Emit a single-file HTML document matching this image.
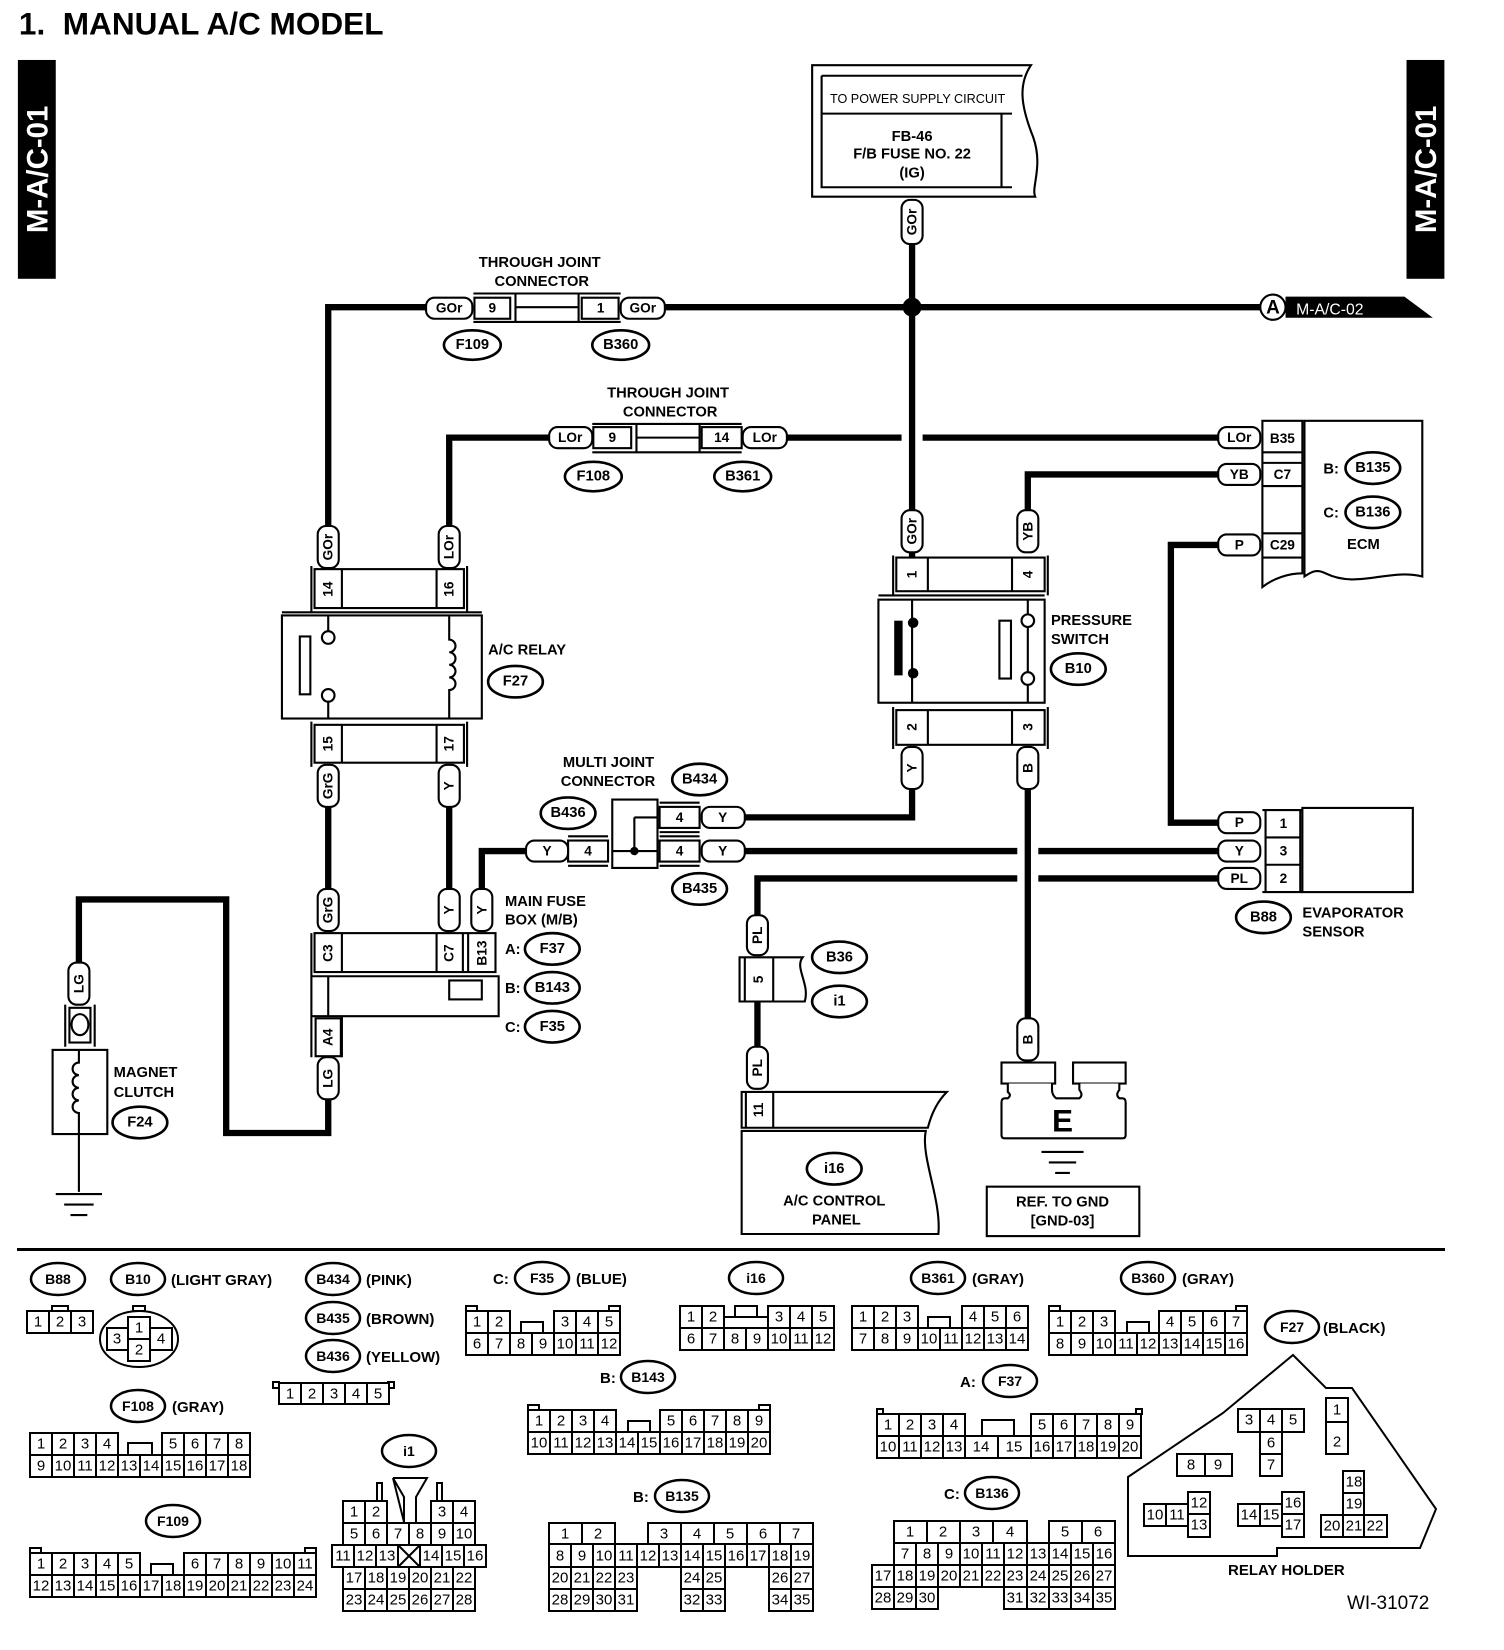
<!DOCTYPE html>
<html><head><meta charset="utf-8"><style>
html,body{margin:0;padding:0;background:#fff}
svg{display:block}
text{font-family:"Liberation Sans",sans-serif;fill:#000}
.b{font-weight:bold}
.w{stroke:#000;stroke-width:6;fill:none}
.t{stroke:#000;stroke-width:2;fill:none}
.f{stroke:#000;stroke-width:2;fill:#fff}
.p{stroke:#000;stroke-width:2;fill:#fff}
.c rect{stroke:#000;stroke-width:2;fill:#fff}
.c text{font-size:15px;text-anchor:middle;dominant-baseline:central}
.o ellipse{stroke:#000;stroke-width:2.5;fill:#fff}
.o text{font-size:14px;font-weight:bold;text-anchor:middle;dominant-baseline:central}
.m{text-anchor:middle;dominant-baseline:central}
</style></head><body>
<svg width="1504" height="1650" viewBox="0 0 1504 1650" xmlns="http://www.w3.org/2000/svg">
<rect width="1504" height="1650" fill="#fff"/>
<g transform="scale(1.052)">
<text x="18" y="33" class="b" font-size="30" xml:space="preserve">1.  MANUAL A/C MODEL</text>
<rect x="17" y="57" width="36" height="208" fill="#000"/>
<text transform="translate(45,161) rotate(-90)" class="b" font-size="28" style="fill:#fff" text-anchor="middle">M-A/C-01</text>
<rect x="1337" y="57" width="36" height="208" fill="#000"/>
<text transform="translate(1365,161) rotate(-90)" class="b" font-size="28" style="fill:#fff" text-anchor="middle">M-A/C-01</text>

<!-- power box -->
<path class="f" stroke-width="3" d="M772,62 H980 C968,80 970,100 982,130 C992,158 980,178 984,187 H772 Z"/>
<path class="t" d="M781,72 H972 M781,72 V178 H962 M781,108 H962 M952,108 V178"/>
<text x="789" y="98" font-size="12">TO POWER SUPPLY CIRCUIT</text>
<text x="867" y="130" class="b m" font-size="14">FB-46</text>
<text x="867" y="147" class="b m" font-size="14">F/B FUSE NO. 22</text>
<text x="867" y="165" class="b m" font-size="14">(IG)</text>

<!-- wires -->
<path class="w" d="M867,230 V530"/>
<path class="w" d="M312,505 V292 H405 M632,292 H1198"/>
<circle cx="867" cy="292" r="9" fill="#000"/>
<path class="w" d="M427,500 V416 H522 M748,416 H857 M877,416 H1158"/>
<path class="w" d="M1158,451 H977 V485"/>
<path class="w" d="M1158,518 H1113 V782 H1158"/>
<path class="w" d="M867,750 V777 H708 M708,809 H967 M987,809 H1158"/>
<path class="w" d="M500,809 H458 V845"/>
<path class="w" d="M977,750 V968"/>
<path class="w" d="M1158,835 H987 M967,835 H720 V870 M720,952 V995"/>
<path class="w" d="M312,767 V845 M427,767 V845"/>
<path class="w" d="M312,1045 V1077 H215 V855 H75 V915"/>

<!-- A connector -->
<circle cx="1210" cy="292" r="12" class="f" stroke-width="3"/>
<text x="1210" y="293" class="b m" font-size="18">A</text>
<polygon points="1222,282 1335,282 1362,302 1222,302" fill="#000"/>
<text x="1232" y="299" font-size="15" style="fill:#fff">M-A/C-02</text>

<!-- through joint 1 -->
<text x="513" y="250" class="b m" font-size="14">THROUGH JOINT</text>
<text x="515" y="268" class="b m" font-size="14">CONNECTOR</text>
<path class="t" d="M450,279 H590 M450,306 H590 M490,279 V306 M550,279 V306 M490,292 H550"/>
<rect class="p" x="405" y="283" width="44" height="20" rx="8"/><text x="427" y="293" class="m b" font-size="13">GOr</text>
<rect class="p" x="451" y="283" width="34" height="20" stroke-width="3"/><text x="468" y="293" class="m b" font-size="13">9</text>
<rect class="p" x="553" y="283" width="35" height="20" stroke-width="3"/><text x="571" y="293" class="m b" font-size="13">1</text>
<rect class="p" x="590" y="283" width="42" height="20" rx="8"/><text x="611" y="293" class="m b" font-size="13">GOr</text>
<g class="o"><ellipse cx="449" cy="328" rx="27" ry="14"/><text x="449" y="328">F109</text>
<ellipse cx="590" cy="328" rx="27" ry="14"/><text x="590" y="328">B360</text></g>

<!-- through joint 2 -->
<text x="635" y="374" class="b m" font-size="14">THROUGH JOINT</text>
<text x="637" y="392" class="b m" font-size="14">CONNECTOR</text>
<path class="t" d="M563,403 H705 M563,430 H705 M605,403 V430 M665,403 V430 M605,416 H665"/>
<rect class="p" x="522" y="406" width="41" height="20" rx="8"/><text x="542" y="416" class="m b" font-size="13">LOr</text>
<rect class="p" x="564" y="406" width="36" height="20" stroke-width="3"/><text x="582" y="416" class="m b" font-size="13">9</text>
<rect class="p" x="667" y="406" width="38" height="20" stroke-width="3"/><text x="686" y="416" class="m b" font-size="13">14</text>
<rect class="p" x="706" y="406" width="42" height="20" rx="8"/><text x="727" y="416" class="m b" font-size="13">LOr</text>
<g class="o"><ellipse cx="564" cy="453" rx="27" ry="14"/><text x="564" y="453">F108</text>
<ellipse cx="706" cy="453" rx="27" ry="14"/><text x="706" y="453">B361</text></g>

<rect class="p" x="857" y="190" width="20" height="42" rx="8"/><text transform="translate(867,211) rotate(-90)" class="m b" font-size="13">GOr</text>

<!-- ECM -->
<path class="f" d="M1240,400 H1352 V548 C1320,540 1290,560 1260,545 C1250,540 1245,545 1240,548 Z"/>
<path class="f" d="M1200,400 H1238 V545 C1225,545 1210,550 1200,558 Z"/>
<path class="t" d="M1200,430 H1238 M1200,440 H1238 M1200,462 H1238 M1200,507 H1238 M1200,530 H1238"/>
<text x="1219" y="417" class="m b" font-size="13">B35</text>
<text x="1219" y="451" class="m b" font-size="13">C7</text>
<text x="1219" y="518" class="m b" font-size="13">C29</text>
<rect class="p" x="1158" y="406" width="40" height="20" rx="8"/><text x="1178" y="416" class="m b" font-size="13">LOr</text>
<rect class="p" x="1158" y="441" width="40" height="20" rx="8"/><text x="1178" y="451" class="m b" font-size="13">YB</text>
<rect class="p" x="1158" y="508" width="40" height="20" rx="8"/><text x="1178" y="518" class="m b" font-size="13">P</text>
<text x="1258" y="450" class="b" font-size="14">B:</text>
<text x="1258" y="492" class="b" font-size="14">C:</text>
<g class="o"><ellipse cx="1305" cy="445" rx="26" ry="15"/><text x="1305" y="445">B135</text>
<ellipse cx="1305" cy="487" rx="26" ry="15"/><text x="1305" y="487">B136</text></g>
<text x="1296" y="518" class="m b" font-size="14">ECM</text>

<!-- pressure switch -->
<rect class="p" x="857" y="485" width="20" height="40" rx="8"/><text transform="translate(867,505) rotate(-90)" class="m b" font-size="13">GOr</text>
<rect class="p" x="967" y="485" width="20" height="40" rx="8"/><text transform="translate(977,505) rotate(-90)" class="m b" font-size="13">YB</text>
<path class="t" d="M849,528 V566 M996,528 V566 M835,566 H993"/>
<rect class="f" x="852" y="530" width="141" height="32"/>
<path class="t" d="M882,530 V562 M962,530 V562"/>
<text transform="translate(867,546) rotate(-90)" class="m b" font-size="13">1</text>
<text transform="translate(977,546) rotate(-90)" class="m b" font-size="13">4</text>
<rect class="f" x="835" y="570" width="158" height="98"/>
<path class="t" d="M867,570 V668 M977,570 V584 M977,596 V639 M977,651 V668"/>
<rect x="850" y="590" width="8" height="52" fill="#000"/>
<circle cx="868" cy="592" r="5" fill="#000"/><circle cx="868" cy="640" r="5" fill="#000"/>
<rect class="f" x="950" y="590" width="11" height="55"/>
<circle cx="977" cy="590" r="6" class="f"/><circle cx="977" cy="645" r="6" class="f"/>
<path class="t" d="M849,672 V712 M996,672 V712"/>
<rect class="f" x="852" y="675" width="141" height="33"/>
<path class="t" d="M882,675 V708 M962,675 V708"/>
<text transform="translate(867,691) rotate(-90)" class="m b" font-size="13">2</text>
<text transform="translate(977,691) rotate(-90)" class="m b" font-size="13">3</text>
<rect class="p" x="857" y="710" width="20" height="40" rx="8"/><text transform="translate(867,730) rotate(-90)" class="m b" font-size="13">Y</text>
<rect class="p" x="967" y="710" width="20" height="40" rx="8"/><text transform="translate(977,730) rotate(-90)" class="m b" font-size="13">B</text>
<text x="999" y="594" class="b" font-size="14">PRESSURE</text>
<text x="999" y="612" class="b" font-size="14">SWITCH</text>
<g class="o"><ellipse cx="1025" cy="636" rx="26" ry="15"/><text x="1025" y="636">B10</text></g>

<!-- A/C relay -->
<rect class="p" x="302" y="500" width="20" height="40" rx="8"/><text transform="translate(312,520) rotate(-90)" class="m b" font-size="13">GOr</text>
<rect class="p" x="417" y="500" width="20" height="40" rx="8"/><text transform="translate(427,520) rotate(-90)" class="m b" font-size="13">LOr</text>
<path class="t" d="M296,538 V582 M444,538 V582 M268,582 H458"/>
<rect class="f" x="299" y="541" width="142" height="37"/>
<path class="t" d="M325,541 V578 M415,541 V578"/>
<text transform="translate(312,560) rotate(-90)" class="m b" font-size="13">14</text>
<text transform="translate(427,560) rotate(-90)" class="m b" font-size="13">16</text>
<rect class="f" x="268" y="585" width="190" height="98"/>
<rect class="f" x="285" y="605" width="10" height="55"/>
<path class="t" d="M312,585 V600 M312,666 V683"/>
<circle cx="312" cy="606" r="6" class="f"/><circle cx="312" cy="661" r="6" class="f"/>
<path class="t" d="M427,585 V608 a6,6 0 1 1 0,12 a6,6 0 1 1 0,12 a6,6 0 1 1 0,12 a6,6 0 1 1 0,12 V683"/>
<path class="t" d="M296,686 V729 M444,686 V729"/>
<rect class="f" x="299" y="689" width="142" height="36"/>
<path class="t" d="M325,689 V725 M415,689 V725"/>
<text transform="translate(312,707) rotate(-90)" class="m b" font-size="13">15</text>
<text transform="translate(427,707) rotate(-90)" class="m b" font-size="13">17</text>
<rect class="p" x="302" y="727" width="20" height="40" rx="8"/><text transform="translate(312,747) rotate(-90)" class="m b" font-size="13">GrG</text>
<rect class="p" x="417" y="727" width="20" height="40" rx="8"/><text transform="translate(427,747) rotate(-90)" class="m b" font-size="13">Y</text>
<text x="464" y="622" class="b" font-size="14">A/C RELAY</text>
<g class="o"><ellipse cx="490" cy="648" rx="26" ry="15"/><text x="490" y="648">F27</text></g>

<!-- multi joint -->
<text x="535" y="729" class="b" font-size="14">MULTI JOINT</text>
<text x="533" y="747" class="b" font-size="14">CONNECTOR</text>
<g class="o"><ellipse cx="665" cy="741" rx="26" ry="15"/><text x="665" y="741">B434</text>
<ellipse cx="540" cy="773" rx="26" ry="15"/><text x="540" y="773">B436</text>
<ellipse cx="665" cy="845" rx="26" ry="15"/><text x="665" y="845">B435</text></g>
<path class="t" d="M582,760 H625 V825 H582 Z M625,760 V825 M603,777 H625 M603,777 V809 M582,809 H625"/>
<circle cx="603" cy="809" r="4" fill="#000"/>
<path class="t" d="M540,795 H578 M540,823 H578 M627,763 H665 M627,791 H665 M627,795 H665 M627,823 H665"/>
<rect class="f" x="627" y="767" width="38" height="20" stroke-width="3"/><text x="646" y="777" class="m b" font-size="13">4</text>
<rect class="f" x="627" y="799" width="38" height="20" stroke-width="3"/><text x="646" y="809" class="m b" font-size="13">4</text>
<rect class="f" x="540" y="799" width="38" height="20" stroke-width="3"/><text x="559" y="809" class="m b" font-size="13">4</text>
<rect class="p" x="667" y="767" width="41" height="20" rx="8"/><text x="687" y="777" class="m b" font-size="13">Y</text>
<rect class="p" x="667" y="799" width="41" height="20" rx="8"/><text x="687" y="809" class="m b" font-size="13">Y</text>
<rect class="p" x="500" y="799" width="40" height="20" rx="8"/><text x="520" y="809" class="m b" font-size="13">Y</text>

<!-- main fuse box -->
<rect class="p" x="302" y="845" width="20" height="40" rx="8"/><text transform="translate(312,865) rotate(-90)" class="m b" font-size="13">GrG</text>
<rect class="p" x="417" y="845" width="20" height="40" rx="8"/><text transform="translate(427,865) rotate(-90)" class="m b" font-size="13">Y</text>
<rect class="p" x="448" y="845" width="20" height="40" rx="8"/><text transform="translate(458,865) rotate(-90)" class="m b" font-size="13">Y</text>
<rect class="f" x="299" y="887" width="172" height="37"/>
<path class="t" d="M325,887 V924 M415,887 V924 M440,887 V924 M445,887 V924 M296,887 V966 M296,928 H474 V966 H296 M312,928 V966 M296,966 V1005"/>
<rect class="f" x="427" y="932" width="31" height="18"/>
<text transform="translate(312,906) rotate(-90)" class="m b" font-size="13">C3</text>
<text transform="translate(427,906) rotate(-90)" class="m b" font-size="13">C7</text>
<text transform="translate(458,906) rotate(-90)" class="m b" font-size="13">B13</text>
<path class="t" d="M325,966 V1005"/>
<rect class="f" x="300" y="968" width="24" height="36" stroke-width="3"/>
<text transform="translate(312,986) rotate(-90)" class="m b" font-size="13">A4</text>
<rect class="p" x="302" y="1005" width="20" height="40" rx="8"/><text transform="translate(312,1025) rotate(-90)" class="m b" font-size="13">LG</text>
<text x="480" y="861" class="b" font-size="14">MAIN FUSE</text>
<text x="480" y="879" class="b" font-size="14">BOX (M/B)</text>
<text x="480" y="907" class="b" font-size="14">A:</text>
<text x="480" y="944" class="b" font-size="14">B:</text>
<text x="480" y="981" class="b" font-size="14">C:</text>
<g class="o"><ellipse cx="525" cy="902" rx="26" ry="15"/><text x="525" y="902">F37</text>
<ellipse cx="525" cy="939" rx="26" ry="15"/><text x="525" y="939">B143</text>
<ellipse cx="525" cy="976" rx="26" ry="15"/><text x="525" y="976">F35</text></g>

<!-- magnet clutch -->
<rect class="p" x="65" y="915" width="20" height="40" rx="8"/><text transform="translate(75,935) rotate(-90)" class="m b" font-size="13">LG</text>
<path class="t" d="M62,955 V995 M90,955 V995"/>
<rect class="f" x="66" y="958" width="20" height="33"/>
<ellipse cx="76" cy="974" rx="8" ry="10" class="f"/>
<rect class="f" x="50" y="998" width="52" height="80"/>
<path class="t" d="M75,998 V1010 a6,6 0 1 0 0,12 a6,6 0 1 0 0,12 a6,6 0 1 0 0,12 a6,6 0 1 0 0,12 V1133 M53,1135 H97 M61,1145 H89 M67,1155 H83"/>
<text x="108" y="1024" class="b" font-size="14">MAGNET</text>
<text x="108" y="1043" class="b" font-size="14">CLUTCH</text>
<g class="o"><ellipse cx="133" cy="1067" rx="26" ry="15"/><text x="133" y="1067">F24</text></g>

<!-- PL / B36 / control panel -->
<rect class="p" x="710" y="870" width="20" height="38" rx="8"/><text transform="translate(720,889) rotate(-90)" class="m b" font-size="13">PL</text>
<path class="f" d="M703,910 H763 C755,920 770,935 765,952 H703 Z"/>
<path class="t" d="M708,910 V952 M735,910 V952"/>
<text transform="translate(721,931) rotate(-90)" class="m b" font-size="13">5</text>
<g class="o"><ellipse cx="798" cy="910" rx="26" ry="15"/><text x="798" y="910">B36</text>
<ellipse cx="798" cy="952" rx="26" ry="15"/><text x="798" y="952">i1</text></g>
<rect class="p" x="710" y="995" width="20" height="40" rx="8"/><text transform="translate(720,1015) rotate(-90)" class="m b" font-size="13">PL</text>
<path class="f" d="M705,1038 H900 C890,1048 885,1060 882,1072 H705 Z"/>
<path class="t" d="M735,1038 V1072 M709,1038 V1072"/>
<text transform="translate(721,1055) rotate(-90)" class="m b" font-size="13">11</text>
<path class="f" d="M705,1075 H880 C875,1100 895,1140 892,1173 H705 Z"/>
<g class="o"><ellipse cx="793" cy="1111" rx="26" ry="15"/><text x="793" y="1111">i16</text></g>
<text x="793" y="1142" class="m b" font-size="14">A/C CONTROL</text>
<text x="795" y="1160" class="m b" font-size="14">PANEL</text>

<!-- ground E -->
<rect class="p" x="967" y="968" width="20" height="40" rx="8"/><text transform="translate(977,988) rotate(-90)" class="m b" font-size="13">B</text>
<rect class="f" x="952" y="1010" width="51" height="20"/>
<rect class="f" x="1020" y="1010" width="50" height="20"/>
<path class="f" d="M958,1030 V1038 Q962,1041 958,1044 H955 Q952,1044 952,1048 V1079 Q952,1082 955,1082 H1067 Q1070,1082 1070,1079 V1048 Q1070,1044 1067,1044 H1064 Q1060,1041 1064,1036 V1030 M1026,1030 V1036 Q1030,1041 1026,1044 H1004 Q1000,1041 1000,1036 V1030"/>
<text x="1010" y="1065" class="m b" font-size="30">E</text>
<path class="t" d="M990,1095 H1030 M997,1105 H1023 M1003,1115 H1017"/>
<rect class="f" x="938" y="1128" width="145" height="47"/>
<text x="1010" y="1143" class="m b" font-size="14">REF. TO GND</text>
<text x="1010" y="1161" class="m b" font-size="14">[GND-03]</text>

<!-- evaporator sensor -->
<rect class="p" x="1158" y="772" width="40" height="20" rx="8"/><text x="1178" y="782" class="m b" font-size="13">P</text>
<rect class="p" x="1158" y="799" width="40" height="20" rx="8"/><text x="1178" y="809" class="m b" font-size="13">Y</text>
<rect class="p" x="1158" y="825" width="40" height="20" rx="8"/><text x="1178" y="835" class="m b" font-size="13">PL</text>
<rect class="f" x="1238" y="768" width="105" height="80"/>
<path class="t" d="M1200,770 H1238 M1200,848 H1238 M1203,770 V848 M1203,796 H1236 M1203,822 H1236 M1236,770 V848"/>
<text x="1220" y="783" class="m b" font-size="13">1</text>
<text x="1220" y="809" class="m b" font-size="13">3</text>
<text x="1220" y="835" class="m b" font-size="13">2</text>
<g class="o"><ellipse cx="1201" cy="872" rx="26" ry="15"/><text x="1201" y="872">B88</text></g>
<text x="1238" y="872" class="b" font-size="14">EVAPORATOR</text>
<text x="1238" y="890" class="b" font-size="14">SENSOR</text>
</g>

<!-- separator -->
<rect x="17" y="1248" width="1428" height="3" fill="#000"/>

<!-- BOTTOM (real coords) -->
<g class="o">
<ellipse cx="58" cy="1279" rx="27" ry="16"/><text x="58" y="1279">B88</text>
<ellipse cx="138" cy="1279" rx="27" ry="16"/><text x="138" y="1279">B10</text>
<ellipse cx="333" cy="1279" rx="27" ry="16"/><text x="333" y="1279">B434</text>
<ellipse cx="333" cy="1318" rx="27" ry="16"/><text x="333" y="1318">B435</text>
<ellipse cx="333" cy="1356" rx="27" ry="16"/><text x="333" y="1356">B436</text>
<ellipse cx="138" cy="1406" rx="27" ry="16"/><text x="138" y="1406">F108</text>
<ellipse cx="173" cy="1521" rx="27" ry="16"/><text x="173" y="1521">F109</text>
<ellipse cx="409" cy="1451" rx="27" ry="16"/><text x="409" y="1451">i1</text>
<ellipse cx="542" cy="1278" rx="27" ry="16"/><text x="542" y="1278">F35</text>
<ellipse cx="756" cy="1278" rx="27" ry="16"/><text x="756" y="1278">i16</text>
<ellipse cx="648" cy="1377" rx="27" ry="16"/><text x="648" y="1377">B143</text>
<ellipse cx="682" cy="1496" rx="27" ry="16"/><text x="682" y="1496">B135</text>
<ellipse cx="938" cy="1278" rx="27" ry="16"/><text x="938" y="1278">B361</text>
<ellipse cx="1148" cy="1278" rx="27" ry="16"/><text x="1148" y="1278">B360</text>
<ellipse cx="1010" cy="1381" rx="27" ry="16"/><text x="1010" y="1381">F37</text>
<ellipse cx="992" cy="1493" rx="27" ry="16"/><text x="992" y="1493">B136</text>
<ellipse cx="1292" cy="1327" rx="27" ry="16"/><text x="1292" y="1327">F27</text>
</g>
<g class="b" font-size="15">
<text x="171" y="1285">(LIGHT GRAY)</text>
<text x="366" y="1285">(PINK)</text>
<text x="366" y="1324">(BROWN)</text>
<text x="366" y="1362">(YELLOW)</text>
<text x="172" y="1412">(GRAY)</text>
<text x="493" y="1284">C:</text><text x="576" y="1284">(BLUE)</text>
<text x="600" y="1383">B:</text>
<text x="633" y="1502">B:</text>
<text x="972" y="1284">(GRAY)</text>
<text x="1182" y="1284">(GRAY)</text>
<text x="960" y="1387">A:</text>
<text x="944" y="1499">C:</text>
<text x="1323" y="1333">(BLACK)</text>
<text x="1228" y="1575">RELAY HOLDER</text>
</g>
<text x="1347" y="1609" font-size="19">WI-31072</text>

<g class="c">
<rect x="52" y="1306" width="16" height="5"/>
<rect x="27" y="1311" width="22" height="22"/><rect x="49" y="1311" width="22" height="22"/><rect x="71" y="1311" width="22" height="22"/>
<text x="38" y="1322">1</text><text x="60" y="1322">2</text><text x="82" y="1322">3</text>
<ellipse cx="139" cy="1339" rx="39" ry="28" stroke="#000" stroke-width="2" fill="#fff"/>
<rect x="133" y="1306" width="12" height="5"/>
<rect x="128" y="1317" width="22" height="22"/><rect x="128" y="1339" width="22" height="22"/>
<rect x="107" y="1328" width="21" height="22"/><rect x="150" y="1328" width="22" height="22"/>
<text x="139" y="1328">1</text><text x="139" y="1350">2</text><text x="117" y="1339">3</text><text x="161" y="1339">4</text>
<rect x="273" y="1382" width="6" height="6"/><rect x="388" y="1382" width="6" height="6"/>
<rect x="279" y="1383" width="22" height="21"/><rect x="301" y="1383" width="22" height="21"/><rect x="323" y="1383" width="22" height="21"/><rect x="345" y="1383" width="22" height="21"/><rect x="367" y="1383" width="22" height="21"/>
<text x="290" y="1394">1</text><text x="312" y="1394">2</text><text x="334" y="1394">3</text><text x="356" y="1394">4</text><text x="378" y="1394">5</text>
<rect x="30" y="1433" width="22" height="22"/><rect x="52" y="1433" width="22" height="22"/><rect x="74" y="1433" width="22" height="22"/><rect x="96" y="1433" width="22" height="22"/>
<rect x="128" y="1443" width="24" height="12"/>
<rect x="162" y="1433" width="22" height="22"/><rect x="184" y="1433" width="22" height="22"/><rect x="206" y="1433" width="22" height="22"/><rect x="228" y="1433" width="22" height="22"/>
<text x="41" y="1444">1</text><text x="63" y="1444">2</text><text x="85" y="1444">3</text><text x="107" y="1444">4</text><text x="173" y="1444">5</text><text x="195" y="1444">6</text><text x="217" y="1444">7</text><text x="239" y="1444">8</text>
<rect x="30" y="1455" width="22" height="22"/><rect x="52" y="1455" width="22" height="22"/><rect x="74" y="1455" width="22" height="22"/><rect x="96" y="1455" width="22" height="22"/><rect x="118" y="1455" width="22" height="22"/><rect x="140" y="1455" width="22" height="22"/><rect x="162" y="1455" width="22" height="22"/><rect x="184" y="1455" width="22" height="22"/><rect x="206" y="1455" width="22" height="22"/><rect x="228" y="1455" width="22" height="22"/>
<text x="41" y="1466">9</text><text x="63" y="1466">10</text><text x="85" y="1466">11</text><text x="107" y="1466">12</text><text x="129" y="1466">13</text><text x="151" y="1466">14</text><text x="173" y="1466">15</text><text x="195" y="1466">16</text><text x="217" y="1466">17</text><text x="239" y="1466">18</text>
<rect x="30" y="1548" width="11" height="5"/><rect x="305" y="1548" width="11" height="5"/>
<rect x="30" y="1553" width="22" height="22"/><rect x="52" y="1553" width="22" height="22"/><rect x="74" y="1553" width="22" height="22"/><rect x="96" y="1553" width="22" height="22"/><rect x="118" y="1553" width="22" height="22"/>
<rect x="151" y="1564" width="22" height="11"/>
<rect x="184" y="1553" width="22" height="22"/><rect x="206" y="1553" width="22" height="22"/><rect x="228" y="1553" width="22" height="22"/><rect x="250" y="1553" width="22" height="22"/><rect x="272" y="1553" width="22" height="22"/><rect x="294" y="1553" width="22" height="22"/>
<text x="41" y="1564">1</text><text x="63" y="1564">2</text><text x="85" y="1564">3</text><text x="107" y="1564">4</text><text x="129" y="1564">5</text><text x="195" y="1564">6</text><text x="217" y="1564">7</text><text x="239" y="1564">8</text><text x="261" y="1564">9</text><text x="283" y="1564">10</text><text x="305" y="1564">11</text>
<rect x="30" y="1575" width="22" height="22"/><rect x="52" y="1575" width="22" height="22"/><rect x="74" y="1575" width="22" height="22"/><rect x="96" y="1575" width="22" height="22"/><rect x="118" y="1575" width="22" height="22"/><rect x="140" y="1575" width="22" height="22"/><rect x="162" y="1575" width="22" height="22"/><rect x="184" y="1575" width="22" height="22"/><rect x="206" y="1575" width="22" height="22"/><rect x="228" y="1575" width="22" height="22"/><rect x="250" y="1575" width="22" height="22"/><rect x="272" y="1575" width="22" height="22"/><rect x="294" y="1575" width="22" height="22"/>
<text x="41" y="1586">12</text><text x="63" y="1586">13</text><text x="85" y="1586">14</text><text x="107" y="1586">15</text><text x="129" y="1586">16</text><text x="151" y="1586">17</text><text x="173" y="1586">18</text><text x="195" y="1586">19</text><text x="217" y="1586">20</text><text x="239" y="1586">21</text><text x="261" y="1586">22</text><text x="283" y="1586">23</text><text x="305" y="1586">24</text>
<path d="M393,1478 H427 L416,1497 V1522 M404,1522 V1497 L393,1478 Z" stroke="#000" stroke-width="2" fill="#fff"/>
<rect x="377" y="1483" width="5" height="18"/><rect x="437" y="1483" width="5" height="18"/>
<rect x="343" y="1501" width="22" height="22"/><rect x="365" y="1501" width="22" height="22"/><rect x="431" y="1501" width="22" height="22"/><rect x="453" y="1501" width="22" height="22"/>
<text x="354" y="1512">1</text><text x="376" y="1512">2</text><text x="442" y="1512">3</text><text x="464" y="1512">4</text>
<rect x="343" y="1523" width="22" height="22"/><rect x="365" y="1523" width="22" height="22"/><rect x="387" y="1523" width="22" height="22"/><rect x="409" y="1523" width="22" height="22"/><rect x="431" y="1523" width="22" height="22"/><rect x="453" y="1523" width="22" height="22"/>
<text x="354" y="1534">5</text><text x="376" y="1534">6</text><text x="398" y="1534">7</text><text x="420" y="1534">8</text><text x="442" y="1534">9</text><text x="464" y="1534">10</text>
<rect x="332" y="1545" width="22" height="22"/><rect x="354" y="1545" width="22" height="22"/><rect x="376" y="1545" width="22" height="22"/><rect x="398" y="1545" width="22" height="22"/><rect x="420" y="1545" width="22" height="22"/><rect x="442" y="1545" width="22" height="22"/><rect x="464" y="1545" width="22" height="22"/>
<path d="M398,1545 L420,1567 M420,1545 L398,1567" stroke="#000" stroke-width="2"/>
<text x="343" y="1556">11</text><text x="365" y="1556">12</text><text x="387" y="1556">13</text><text x="431" y="1556">14</text><text x="453" y="1556">15</text><text x="475" y="1556">16</text>
<rect x="343" y="1567" width="22" height="22"/><rect x="365" y="1567" width="22" height="22"/><rect x="387" y="1567" width="22" height="22"/><rect x="409" y="1567" width="22" height="22"/><rect x="431" y="1567" width="22" height="22"/><rect x="453" y="1567" width="22" height="22"/>
<text x="354" y="1578">17</text><text x="376" y="1578">18</text><text x="398" y="1578">19</text><text x="420" y="1578">20</text><text x="442" y="1578">21</text><text x="464" y="1578">22</text>
<rect x="343" y="1589" width="22" height="22"/><rect x="365" y="1589" width="22" height="22"/><rect x="387" y="1589" width="22" height="22"/><rect x="409" y="1589" width="22" height="22"/><rect x="431" y="1589" width="22" height="22"/><rect x="453" y="1589" width="22" height="22"/>
<text x="354" y="1600">23</text><text x="376" y="1600">24</text><text x="398" y="1600">25</text><text x="420" y="1600">26</text><text x="442" y="1600">27</text><text x="464" y="1600">28</text>
<rect x="466" y="1306" width="11" height="5"/><rect x="609" y="1306" width="11" height="5"/>
<rect x="466" y="1311" width="22" height="22"/><rect x="488" y="1311" width="22" height="22"/><rect x="521" y="1322" width="22" height="11"/><rect x="554" y="1311" width="22" height="22"/><rect x="576" y="1311" width="22" height="22"/><rect x="598" y="1311" width="22" height="22"/>
<text x="477" y="1322">1</text><text x="499" y="1322">2</text><text x="565" y="1322">3</text><text x="587" y="1322">4</text><text x="609" y="1322">5</text>
<rect x="466" y="1333" width="22" height="22"/><rect x="488" y="1333" width="22" height="22"/><rect x="510" y="1333" width="22" height="22"/><rect x="532" y="1333" width="22" height="22"/><rect x="554" y="1333" width="22" height="22"/><rect x="576" y="1333" width="22" height="22"/><rect x="598" y="1333" width="22" height="22"/>
<text x="477" y="1344">6</text><text x="499" y="1344">7</text><text x="521" y="1344">8</text><text x="543" y="1344">9</text><text x="565" y="1344">10</text><text x="587" y="1344">11</text><text x="609" y="1344">12</text>
<rect x="724" y="1317" width="44" height="11"/><rect x="735" y="1306" width="22" height="11"/>
<rect x="680" y="1306" width="22" height="22"/><rect x="702" y="1306" width="22" height="22"/><rect x="768" y="1306" width="22" height="22"/><rect x="790" y="1306" width="22" height="22"/><rect x="812" y="1306" width="22" height="22"/>
<text x="691" y="1317">1</text><text x="713" y="1317">2</text><text x="779" y="1317">3</text><text x="801" y="1317">4</text><text x="823" y="1317">5</text>
<rect x="680" y="1328" width="22" height="22"/><rect x="702" y="1328" width="22" height="22"/><rect x="724" y="1328" width="22" height="22"/><rect x="746" y="1328" width="22" height="22"/><rect x="768" y="1328" width="22" height="22"/><rect x="790" y="1328" width="22" height="22"/><rect x="812" y="1328" width="22" height="22"/>
<text x="691" y="1339">6</text><text x="713" y="1339">7</text><text x="735" y="1339">8</text><text x="757" y="1339">9</text><text x="779" y="1339">10</text><text x="801" y="1339">11</text><text x="823" y="1339">12</text>
<rect x="528" y="1405" width="11" height="5"/><rect x="759" y="1405" width="11" height="5"/>
<rect x="528" y="1410" width="22" height="22"/><rect x="550" y="1410" width="22" height="22"/><rect x="572" y="1410" width="22" height="22"/><rect x="594" y="1410" width="22" height="22"/><rect x="628" y="1421" width="22" height="11"/><rect x="660" y="1410" width="22" height="22"/><rect x="682" y="1410" width="22" height="22"/><rect x="704" y="1410" width="22" height="22"/><rect x="726" y="1410" width="22" height="22"/><rect x="748" y="1410" width="22" height="22"/>
<text x="539" y="1421">1</text><text x="561" y="1421">2</text><text x="583" y="1421">3</text><text x="605" y="1421">4</text><text x="671" y="1421">5</text><text x="693" y="1421">6</text><text x="715" y="1421">7</text><text x="737" y="1421">8</text><text x="759" y="1421">9</text>
<rect x="528" y="1432" width="22" height="22"/><rect x="550" y="1432" width="22" height="22"/><rect x="572" y="1432" width="22" height="22"/><rect x="594" y="1432" width="22" height="22"/><rect x="616" y="1432" width="22" height="22"/><rect x="638" y="1432" width="22" height="22"/><rect x="660" y="1432" width="22" height="22"/><rect x="682" y="1432" width="22" height="22"/><rect x="704" y="1432" width="22" height="22"/><rect x="726" y="1432" width="22" height="22"/><rect x="748" y="1432" width="22" height="22"/>
<text x="539" y="1443">10</text><text x="561" y="1443">11</text><text x="583" y="1443">12</text><text x="605" y="1443">13</text><text x="627" y="1443">14</text><text x="649" y="1443">15</text><text x="671" y="1443">16</text><text x="693" y="1443">17</text><text x="715" y="1443">18</text><text x="737" y="1443">19</text><text x="759" y="1443">20</text>
<rect x="549" y="1523" width="33" height="21"/><rect x="582" y="1523" width="33" height="21"/><rect x="648" y="1523" width="33" height="21"/><rect x="681" y="1523" width="33" height="21"/><rect x="714" y="1523" width="33" height="21"/><rect x="747" y="1523" width="33" height="21"/><rect x="780" y="1523" width="33" height="21"/>
<text x="565" y="1534">1</text><text x="598" y="1534">2</text><text x="664" y="1534">3</text><text x="697" y="1534">4</text><text x="730" y="1534">5</text><text x="763" y="1534">6</text><text x="796" y="1534">7</text>
<rect x="549" y="1544" width="22" height="23"/><rect x="571" y="1544" width="22" height="23"/><rect x="593" y="1544" width="22" height="23"/><rect x="615" y="1544" width="22" height="23"/><rect x="637" y="1544" width="22" height="23"/><rect x="659" y="1544" width="22" height="23"/><rect x="681" y="1544" width="22" height="23"/><rect x="703" y="1544" width="22" height="23"/><rect x="725" y="1544" width="22" height="23"/><rect x="747" y="1544" width="22" height="23"/><rect x="769" y="1544" width="22" height="23"/><rect x="791" y="1544" width="22" height="23"/>
<text x="560" y="1556">8</text><text x="582" y="1556">9</text><text x="604" y="1556">10</text><text x="626" y="1556">11</text><text x="648" y="1556">12</text><text x="670" y="1556">13</text><text x="692" y="1556">14</text><text x="714" y="1556">15</text><text x="736" y="1556">16</text><text x="758" y="1556">17</text><text x="780" y="1556">18</text><text x="802" y="1556">19</text>
<rect x="549" y="1567" width="22" height="22"/><rect x="571" y="1567" width="22" height="22"/><rect x="593" y="1567" width="22" height="22"/><rect x="615" y="1567" width="22" height="22"/><rect x="681" y="1567" width="22" height="22"/><rect x="703" y="1567" width="22" height="22"/><rect x="769" y="1567" width="22" height="22"/><rect x="791" y="1567" width="22" height="22"/>
<text x="560" y="1578">20</text><text x="582" y="1578">21</text><text x="604" y="1578">22</text><text x="626" y="1578">23</text><text x="692" y="1578">24</text><text x="714" y="1578">25</text><text x="780" y="1578">26</text><text x="802" y="1578">27</text>
<rect x="549" y="1589" width="22" height="22"/><rect x="571" y="1589" width="22" height="22"/><rect x="593" y="1589" width="22" height="22"/><rect x="615" y="1589" width="22" height="22"/><rect x="681" y="1589" width="22" height="22"/><rect x="703" y="1589" width="22" height="22"/><rect x="769" y="1589" width="22" height="22"/><rect x="791" y="1589" width="22" height="22"/>
<text x="560" y="1600">28</text><text x="582" y="1600">29</text><text x="604" y="1600">30</text><text x="626" y="1600">31</text><text x="692" y="1600">32</text><text x="714" y="1600">33</text><text x="780" y="1600">34</text><text x="802" y="1600">35</text>
<rect x="852" y="1306" width="22" height="22"/><rect x="874" y="1306" width="22" height="22"/><rect x="896" y="1306" width="22" height="22"/><rect x="928" y="1317" width="22" height="11"/><rect x="962" y="1306" width="22" height="22"/><rect x="984" y="1306" width="22" height="22"/><rect x="1006" y="1306" width="22" height="22"/>
<text x="863" y="1317">1</text><text x="885" y="1317">2</text><text x="907" y="1317">3</text><text x="973" y="1317">4</text><text x="995" y="1317">5</text><text x="1017" y="1317">6</text>
<rect x="852" y="1328" width="22" height="22"/><rect x="874" y="1328" width="22" height="22"/><rect x="896" y="1328" width="22" height="22"/><rect x="918" y="1328" width="22" height="22"/><rect x="940" y="1328" width="22" height="22"/><rect x="962" y="1328" width="22" height="22"/><rect x="984" y="1328" width="22" height="22"/><rect x="1006" y="1328" width="22" height="22"/>
<text x="863" y="1339">7</text><text x="885" y="1339">8</text><text x="907" y="1339">9</text><text x="929" y="1339">10</text><text x="951" y="1339">11</text><text x="973" y="1339">12</text><text x="995" y="1339">13</text><text x="1017" y="1339">14</text>
<rect x="1049" y="1306" width="11" height="5"/><rect x="1236" y="1306" width="11" height="5"/>
<rect x="1049" y="1311" width="22" height="22"/><rect x="1071" y="1311" width="22" height="22"/><rect x="1093" y="1311" width="22" height="22"/><rect x="1127" y="1322" width="22" height="11"/><rect x="1159" y="1311" width="22" height="22"/><rect x="1181" y="1311" width="22" height="22"/><rect x="1203" y="1311" width="22" height="22"/><rect x="1225" y="1311" width="22" height="22"/>
<text x="1060" y="1322">1</text><text x="1082" y="1322">2</text><text x="1104" y="1322">3</text><text x="1170" y="1322">4</text><text x="1192" y="1322">5</text><text x="1214" y="1322">6</text><text x="1236" y="1322">7</text>
<rect x="1049" y="1333" width="22" height="22"/><rect x="1071" y="1333" width="22" height="22"/><rect x="1093" y="1333" width="22" height="22"/><rect x="1115" y="1333" width="22" height="22"/><rect x="1137" y="1333" width="22" height="22"/><rect x="1159" y="1333" width="22" height="22"/><rect x="1181" y="1333" width="22" height="22"/><rect x="1203" y="1333" width="22" height="22"/><rect x="1225" y="1333" width="22" height="22"/>
<text x="1060" y="1344">8</text><text x="1082" y="1344">9</text><text x="1104" y="1344">10</text><text x="1126" y="1344">11</text><text x="1148" y="1344">12</text><text x="1170" y="1344">13</text><text x="1192" y="1344">14</text><text x="1214" y="1344">15</text><text x="1236" y="1344">16</text>
<rect x="877" y="1409" width="6" height="5"/><rect x="1136" y="1409" width="6" height="5"/>
<rect x="877" y="1414" width="22" height="22"/><rect x="899" y="1414" width="22" height="22"/><rect x="921" y="1414" width="22" height="22"/><rect x="943" y="1414" width="22" height="22"/><rect x="982" y="1420" width="32" height="16"/><rect x="1031" y="1414" width="22" height="22"/><rect x="1053" y="1414" width="22" height="22"/><rect x="1075" y="1414" width="22" height="22"/><rect x="1097" y="1414" width="22" height="22"/><rect x="1119" y="1414" width="22" height="22"/>
<text x="888" y="1425">1</text><text x="910" y="1425">2</text><text x="932" y="1425">3</text><text x="954" y="1425">4</text><text x="1042" y="1425">5</text><text x="1064" y="1425">6</text><text x="1086" y="1425">7</text><text x="1108" y="1425">8</text><text x="1130" y="1425">9</text>
<rect x="877" y="1436" width="22" height="22"/><rect x="899" y="1436" width="22" height="22"/><rect x="921" y="1436" width="22" height="22"/><rect x="943" y="1436" width="22" height="22"/><rect x="965" y="1436" width="33" height="22"/><rect x="998" y="1436" width="33" height="22"/><rect x="1031" y="1436" width="22" height="22"/><rect x="1053" y="1436" width="22" height="22"/><rect x="1075" y="1436" width="22" height="22"/><rect x="1097" y="1436" width="22" height="22"/><rect x="1119" y="1436" width="22" height="22"/>
<text x="888" y="1447">10</text><text x="910" y="1447">11</text><text x="932" y="1447">12</text><text x="954" y="1447">13</text><text x="981" y="1447">14</text><text x="1014" y="1447">15</text><text x="1042" y="1447">16</text><text x="1064" y="1447">17</text><text x="1086" y="1447">18</text><text x="1108" y="1447">19</text><text x="1130" y="1447">20</text>
<rect x="894" y="1521" width="33" height="22"/><rect x="927" y="1521" width="33" height="22"/><rect x="960" y="1521" width="33" height="22"/><rect x="993" y="1521" width="34" height="22"/><rect x="1049" y="1521" width="33" height="22"/><rect x="1082" y="1521" width="33" height="22"/>
<text x="910" y="1532">1</text><text x="943" y="1532">2</text><text x="976" y="1532">3</text><text x="1010" y="1532">4</text><text x="1065" y="1532">5</text><text x="1098" y="1532">6</text>
<rect x="894" y="1543" width="22" height="22"/><rect x="916" y="1543" width="22" height="22"/><rect x="938" y="1543" width="22" height="22"/><rect x="960" y="1543" width="22" height="22"/><rect x="982" y="1543" width="22" height="22"/><rect x="1004" y="1543" width="23" height="22"/><rect x="1027" y="1543" width="22" height="22"/><rect x="1049" y="1543" width="22" height="22"/><rect x="1071" y="1543" width="22" height="22"/><rect x="1093" y="1543" width="22" height="22"/>
<text x="905" y="1554">7</text><text x="927" y="1554">8</text><text x="949" y="1554">9</text><text x="971" y="1554">10</text><text x="993" y="1554">11</text><text x="1015" y="1554">12</text><text x="1038" y="1554">13</text><text x="1060" y="1554">14</text><text x="1082" y="1554">15</text><text x="1104" y="1554">16</text>
<rect x="872" y="1565" width="22" height="22"/><rect x="894" y="1565" width="22" height="22"/><rect x="916" y="1565" width="22" height="22"/><rect x="938" y="1565" width="22" height="22"/><rect x="960" y="1565" width="22" height="22"/><rect x="982" y="1565" width="22" height="22"/><rect x="1004" y="1565" width="23" height="22"/><rect x="1027" y="1565" width="22" height="22"/><rect x="1049" y="1565" width="22" height="22"/><rect x="1071" y="1565" width="22" height="22"/><rect x="1093" y="1565" width="22" height="22"/>
<text x="883" y="1576">17</text><text x="905" y="1576">18</text><text x="927" y="1576">19</text><text x="949" y="1576">20</text><text x="971" y="1576">21</text><text x="993" y="1576">22</text><text x="1015" y="1576">23</text><text x="1038" y="1576">24</text><text x="1060" y="1576">25</text><text x="1082" y="1576">26</text><text x="1104" y="1576">27</text>
<rect x="872" y="1587" width="22" height="22"/><rect x="894" y="1587" width="22" height="22"/><rect x="916" y="1587" width="22" height="22"/><rect x="1004" y="1587" width="23" height="22"/><rect x="1027" y="1587" width="22" height="22"/><rect x="1049" y="1587" width="22" height="22"/><rect x="1071" y="1587" width="22" height="22"/><rect x="1093" y="1587" width="22" height="22"/>
<text x="883" y="1598">28</text><text x="905" y="1598">29</text><text x="927" y="1598">30</text><text x="1015" y="1598">31</text><text x="1038" y="1598">32</text><text x="1060" y="1598">33</text><text x="1082" y="1598">34</text><text x="1104" y="1598">35</text>
<polygon points="1128,1477 1223,1413 1293,1355 1326,1388 1352,1388 1436,1509 1420,1548 1277,1548 1277,1556 1128,1556" fill="none" stroke="#000" stroke-width="2"/>
<rect x="1238" y="1409" width="22" height="23"/><rect x="1260" y="1409" width="22" height="23"/><rect x="1282" y="1409" width="22" height="23"/>
<rect x="1260" y="1432" width="22" height="22"/><rect x="1260" y="1454" width="22" height="22"/>
<text x="1249" y="1420">3</text><text x="1271" y="1420">4</text><text x="1293" y="1420">5</text><text x="1271" y="1443">6</text><text x="1271" y="1465">7</text>
<rect x="1326" y="1398" width="22" height="24"/><rect x="1326" y="1422" width="22" height="32"/>
<text x="1337" y="1410">1</text><text x="1337" y="1442">2</text>
<rect x="1177" y="1454" width="28" height="22"/><rect x="1205" y="1454" width="27" height="22"/>
<text x="1191" y="1465">8</text><text x="1218" y="1465">9</text>
<rect x="1144" y="1504" width="22" height="22"/><rect x="1166" y="1504" width="22" height="22"/><rect x="1188" y="1492" width="22" height="22"/><rect x="1188" y="1514" width="22" height="23"/>
<text x="1155" y="1515">10</text><text x="1177" y="1515">11</text><text x="1199" y="1503">12</text><text x="1199" y="1525">13</text>
<rect x="1238" y="1504" width="22" height="22"/><rect x="1260" y="1504" width="22" height="22"/><rect x="1282" y="1492" width="22" height="22"/><rect x="1282" y="1514" width="22" height="23"/>
<text x="1249" y="1515">14</text><text x="1271" y="1515">15</text><text x="1293" y="1503">16</text><text x="1293" y="1525">17</text>
<rect x="1343" y="1471" width="21" height="22"/><rect x="1343" y="1493" width="21" height="22"/>
<rect x="1321" y="1515" width="22" height="22"/><rect x="1343" y="1515" width="21" height="22"/><rect x="1364" y="1515" width="23" height="22"/>
<text x="1354" y="1482">18</text><text x="1354" y="1504">19</text><text x="1332" y="1526">20</text><text x="1354" y="1526">21</text><text x="1375" y="1526">22</text>
</g>
</svg>
</body></html>
